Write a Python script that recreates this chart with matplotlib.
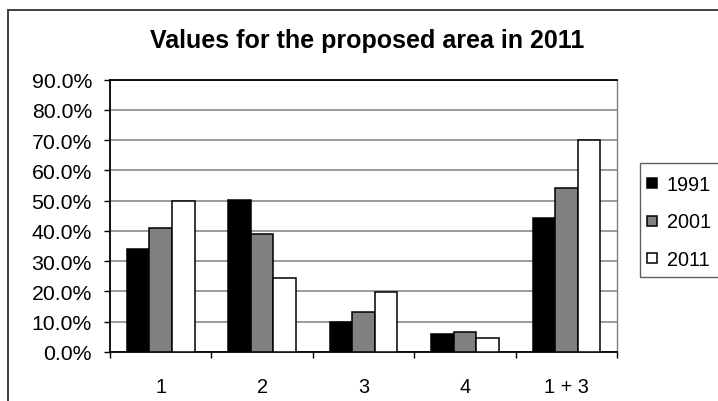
import numpy as np
import matplotlib
matplotlib.use("Agg")
import matplotlib.pyplot as plt
from matplotlib.patches import Rectangle
from matplotlib.lines import Line2D
from matplotlib.ticker import FuncFormatter

plt.rcParams['font.family'] = ['Liberation Sans', 'DejaVu Sans']

# data
categories = ['1', '2', '3', '4', '1 + 3']
years = ['1991', '2001', '2011']
v1991 = [34.0, 50.3, 10.0, 6.1, 44.4]
v2001 = [41.0, 39.0, 13.2, 6.6, 54.2]
v2011 = [50.0, 24.5, 19.8, 4.6, 70.0]
series = [v1991, v2001, v2011]
fills = ['#000000', '#808080', '#ffffff']

W, H = 718, 402
fig = plt.figure(figsize=(W / 100, H / 100), dpi=100)
ax = fig.add_axes([110 / W, 1 - 353 / H, (617 - 110) / W, (353 - 80.7) / H])

x = np.arange(len(categories))
bw = 1 / 4.5
for i, (vals, c) in enumerate(zip(series, fills)):
    ax.bar(x + (i - 1) * bw, vals, width=bw, color=c, edgecolor='black',
           linewidth=1.1, zorder=3, label=years[i])

ax.set_xlim(-0.5, len(categories) - 0.5)
ax.set_ylim(0, 90)
ax.set_yticks(np.arange(0, 91, 10))
ax.yaxis.set_major_formatter(FuncFormatter(lambda v, p: '%.1f%%' % v))
ax.yaxis.grid(True, color='#808080', linewidth=1.1, zorder=0)

# group boundaries carry the tick marks, the names sit in between
ax.set_xticks(np.arange(-0.5, len(categories), 1.0))
ax.set_xticklabels([])
ax.set_xticks(x, minor=True)
ax.set_xticklabels(categories, minor=True)
ax.tick_params(axis='x', which='major', direction='out', length=4.5, width=1, color='black')
ax.tick_params(axis='x', which='minor', length=0, pad=18, labelsize=14.3)
ax.tick_params(axis='y', direction='out', length=4.5, width=1, pad=8.5, labelsize=15.3)

for s in ['left', 'bottom', 'top']:
    ax.spines[s].set_color('black')
    ax.spines[s].set_linewidth(1.3)
ax.spines['right'].set_color('#808080')
ax.spines['right'].set_linewidth(1.0)

fig.text(367.5 / W, 1 - 48.3 / H, 'Values for the proposed area in 2011',
         ha='center', va='baseline', fontsize=18, fontweight='bold')

# outer chart border, runs off the right and bottom edges
fig.patches.append(Rectangle((8 / W, -0.1), 1.2, 1 - 11 / H + 0.1,
                             transform=fig.transFigure, fill=False,
                             edgecolor='#303030', linewidth=1.3))

# legend box
fig.patches.append(Rectangle((639.5 / W, 1 - 278 / H), 0.2, (278 - 164) / H,
                             transform=fig.transFigure, fill=False,
                             edgecolor='#606060', linewidth=1.0))
handles = [Line2D([], [], linestyle='none', marker='s', markersize=7.2,
                  markerfacecolor=c, markeredgecolor='black', markeredgewidth=1.1)
           for c in fills]
fig.legend(handles, years, loc='center left',
           bbox_to_anchor=(646 / W, 1 - 223 / H), frameon=False,
           fontsize=14.3, handlelength=0.6, handletextpad=0.45,
           labelspacing=0.92, borderpad=0, borderaxespad=0)

fig.savefig('out.png', dpi=100)
